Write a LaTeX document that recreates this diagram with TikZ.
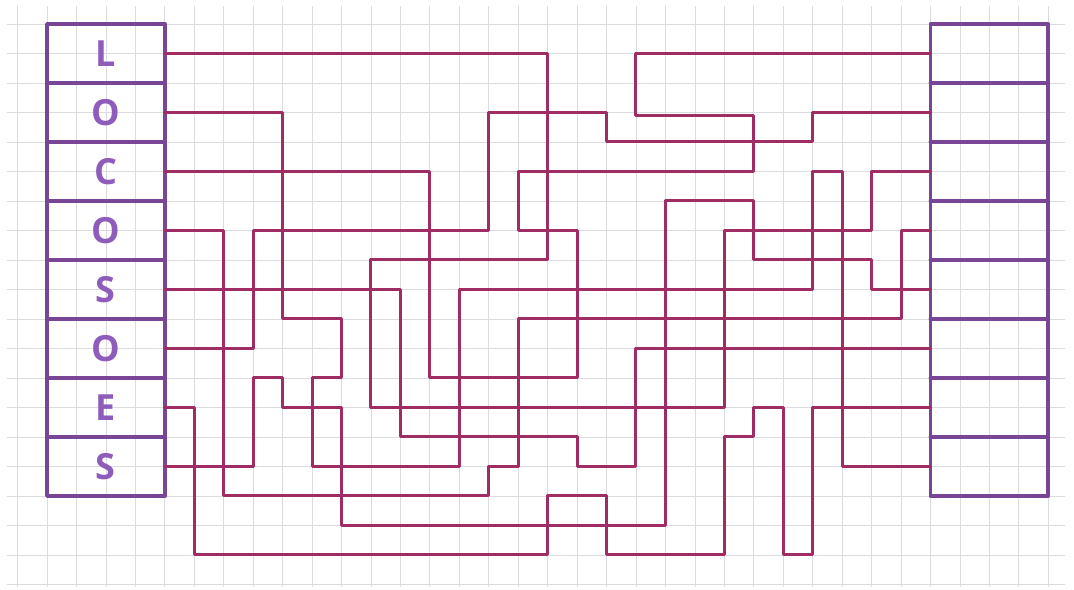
\documentclass[tikz,border=0pt]{standalone}
\usepackage{fontspec}
\newfontfamily\hand{Open Sans}
\definecolor{wirecol}{RGB}{160,44,100}
\definecolor{boxcol}{RGB}{120,70,148}
\definecolor{lettercol}{RGB}{142,92,186}
\definecolor{gridcol}{RGB}{220,220,224}
\begin{document}
\begin{tikzpicture}[x=29.45pt,y=-29.5pt,
  gridline/.style={draw=gridcol, line width=0.7pt},
  wire/.style={draw=wirecol, line width=3pt, line join=round, line cap=round},
  boxline/.style={draw=boxcol, line width=3.8pt, line join=round, line cap=round},
  letter/.style={text=lettercol, font=\hand\bfseries\fontsize{36}{36}\selectfont, inner sep=0pt}]
\useasboundingbox (-1.596,-0.8136) rectangle (34.874,19.186);
\fill[white] (-1.596,-0.8136) rectangle (34.874,19.186);
% graph paper
\begin{scope}
\clip (-1.36,-0.58) rectangle (34.57,19.08);
\foreach \i in {-1,...,35} \draw[gridline] (\i,-1) -- (\i,20);
\foreach \j in {0,...,20} \draw[gridline] (-2,\j) -- (35,\j);
\end{scope}
% left box with letters
\draw[boxline] (0,0) rectangle (4,16);
\foreach \j in {2,4,...,14} \draw[boxline] (0,\j) -- (4,\j);
\node[letter] (n1) at (2,1) {L};
\node[letter] (n2) at (2,3) {O};
\node[letter] (n3) at (2,5) {C};
\node[letter] (n4) at (2,7) {O};
\node[letter] (n5) at (2,9) {S};
\node[letter] (n6) at (2,11) {O};
\node[letter] (n7) at (2,13) {E};
\node[letter] (n8) at (2,15) {S};
% right box
\draw[boxline] (30,0) rectangle (34,16);
\foreach \j in {2,4,...,14} \draw[boxline] (30,\j) -- (34,\j);
% pins
\foreach \k/\r in {1/1,2/3,3/5,4/7,5/9,6/11,7/13,8/15} {
  \coordinate (a\k) at (4,\r);
  \coordinate (b\k) at (30,\r);
}
% wires
\draw[wire] (a1) -- (17,1) -- (17,8) -- (11,8) -- (11,13) -- (23,13) -- (23,7) -- (28,7) -- (28,5) -- (b3);
\draw[wire] (a2) -- (8,3) -- (8,10) -- (10,10) -- (10,12) -- (9,12) -- (9,15) -- (14,15) -- (14,9) -- (26,9) -- (26,5) -- (27,5) -- (27,15) -- (b8);
\draw[wire] (a3) -- (13,5) -- (13,12) -- (18,12) -- (18,7) -- (16,7) -- (16,5) -- (24,5) -- (24,3.1) -- (20,3.1) -- (20,1) -- (b1);
\draw[wire] (a4) -- (6,7) -- (6,16) -- (15,16) -- (15,15) -- (16,15) -- (16,10) -- (29,10) -- (29,7) -- (b4);
\draw[wire] (a5) -- (12,9) -- (12,14) -- (18,14) -- (18,15) -- (20,15) -- (20,11) -- (b6);
\draw[wire] (a6) -- (7,11) -- (7,7) -- (15,7) -- (15,3) -- (19,3) -- (19,4) -- (26,4) -- (26,3) -- (b2);
\draw[wire] (a7) -- (5,13) -- (5,18) -- (17,18) -- (17,16) -- (19,16) -- (19,18) -- (23,18) -- (23,14) -- (24,14) -- (24,13) -- (25,13) -- (25,18) -- (26,18) -- (26,13) -- (b7);
\draw[wire] (a8) -- (7,15) -- (7,12) -- (8,12) -- (8,13) -- (10,13) -- (10,17) -- (21,17) -- (21,6) -- (24,6) -- (24,8) -- (28,8) -- (28,9) -- (b5);
\end{tikzpicture}
\end{document}
